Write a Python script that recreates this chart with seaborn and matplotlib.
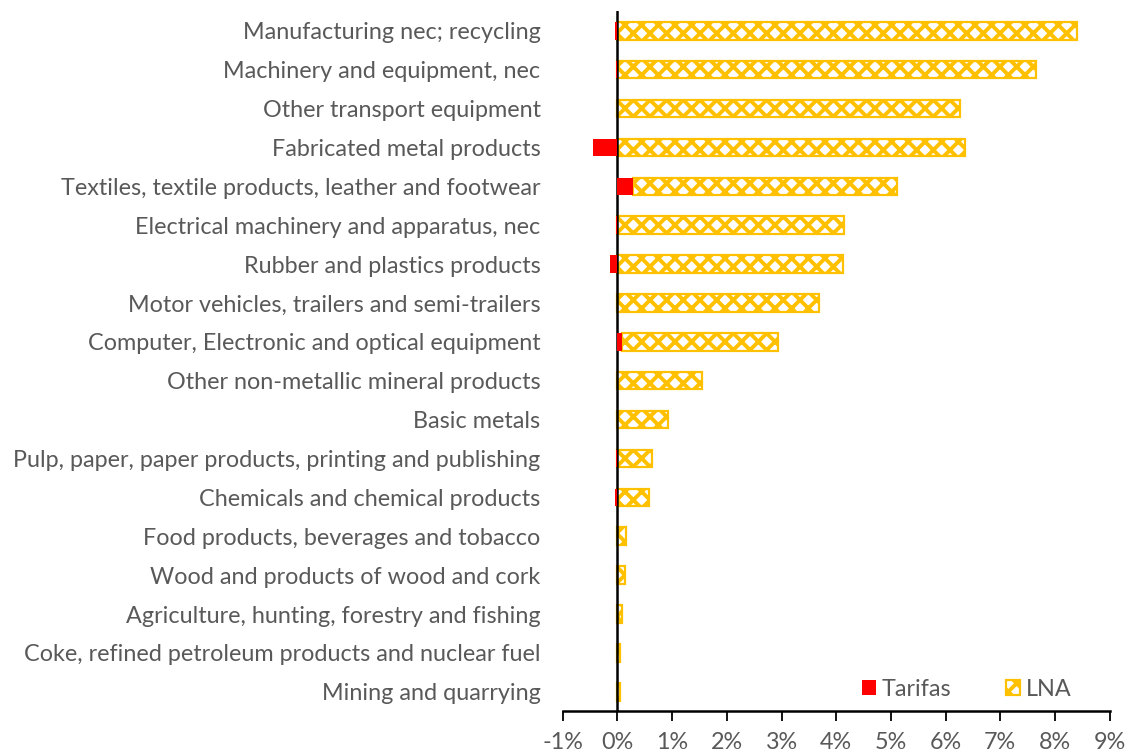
import matplotlib
matplotlib.use("Agg")
import matplotlib.pyplot as plt
import seaborn as sns
import pandas as pd
import numpy as np
from matplotlib.ticker import FuncFormatter

sectors = [
    "Manufacturing nec; recycling",
    "Machinery and equipment, nec",
    "Other transport equipment",
    "Fabricated metal products",
    "Textiles, textile products, leather and footwear",
    "Electrical machinery and apparatus, nec",
    "Rubber and plastics products",
    "Motor vehicles, trailers and semi-trailers",
    "Computer, Electronic and optical equipment",
    "Other non-metallic mineral products",
    "Basic metals",
    "Pulp, paper, paper products, printing and publishing",
    "Chemicals and chemical products",
    "Food products, beverages and tobacco",
    "Wood and products of wood and cork",
    "Agriculture, hunting, forestry and fishing",
    "Coke, refined petroleum products and nuclear fuel",
    "Mining and quarrying",
]
# values in percent
tarifas = [-0.05, -0.03, 0.0, -0.45, 0.28, -0.03, -0.13, 0.0, 0.09,
           0.0, 0.0, -0.03, -0.05, 0.0, 0.0, 0.0, 0.0, 0.0]
lna = [8.41, 7.66, 6.27, 6.36, 4.84, 4.15, 4.13, 3.69, 2.85,
       1.54, 0.93, 0.64, 0.57, 0.15, 0.13, 0.09, 0.05, 0.05]
x_ticks = list(range(-1, 10))

RED = "#FF0000"
GOLD = "#FFC000"
GREY = "#595959"
FS = 16.8

sns.set_theme(style="white")
plt.rcParams["font.family"] = ["Lato", "DejaVu Sans"]
plt.rcParams["hatch.linewidth"] = 2.8
plt.rcParams["hatch.color"] = GOLD

df = pd.DataFrame({"sector": sectors, "Tarifas": tarifas, "LNA": lna})
# LNA is stacked after the positive part of the tariff effect
df["base"] = df["Tarifas"].clip(lower=0)

fig = plt.figure(figsize=(11.3, 7.55), dpi=100)
ax = fig.add_axes([0.498, 0.058, 0.484, 0.927])

bh = 0.45
sns.barplot(data=df, y="sector", x="Tarifas", order=sectors, orient="h",
            color=RED, saturation=1, width=bh, errorbar=None, ax=ax,
            label="Tarifas", linewidth=0, zorder=6)
sns.barplot(data=df, y="sector", x="LNA", order=sectors, orient="h",
            left=df["base"].values, color="white", saturation=1, width=bh,
            errorbar=None, ax=ax, label="LNA", edgecolor=GOLD,
            linewidth=1.6, hatch="xx")

ax.set_xlim(-1, 9)
ax.set_ylim(len(sectors) - 0.5, -0.5)
ax.set_xticks(x_ticks)
ax.xaxis.set_major_formatter(FuncFormatter(lambda v, p: f"{v:.0f}%"))
ax.axvline(0, color="black", lw=1.8, zorder=5)

for s in ["top", "right", "left"]:
    ax.spines[s].set_visible(False)
ax.spines["bottom"].set_color("black")
ax.spines["bottom"].set_linewidth(1.8)
ax.tick_params(axis="x", which="major", direction="out", length=7, width=1.3,
               color="black", bottom=True, labelsize=FS, labelcolor=GREY, pad=8)
ax.tick_params(axis="y", length=0, labelsize=FS, labelcolor=GREY, pad=16)
ax.set_xlabel("")
ax.set_ylabel("")
ax.grid(False)

leg = ax.legend(loc="lower right", bbox_to_anchor=(0.968, -0.014), ncol=2,
                frameon=False, fontsize=FS, handlelength=0.62, handleheight=0.62,
                columnspacing=2.35, handletextpad=0.22)
for t in leg.get_texts():
    t.set_color(GREY)

fig.savefig("out.png", dpi=100, facecolor="white")
